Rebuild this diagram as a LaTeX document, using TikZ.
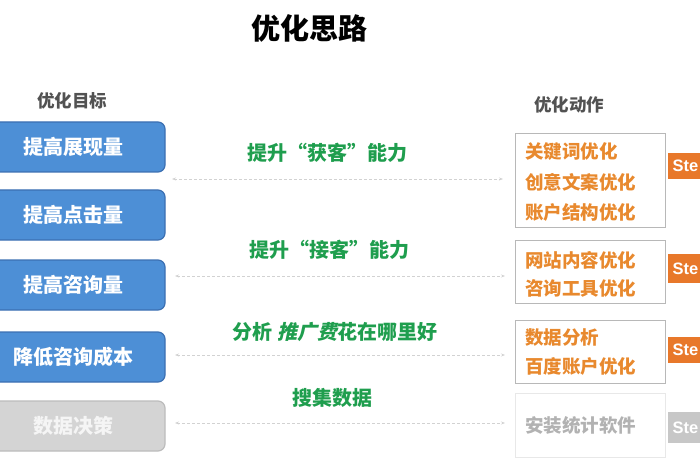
\documentclass[tikz,border=0pt]{standalone}
\usepackage{fontspec}
\setmainfont{Noto Sans CJK SC}
\newfontfamily\cjkslant{Noto Sans CJK SC}[FakeSlant=0.22]
\newfontfamily\latinsans{Liberation Sans}
\usetikzlibrary{arrows.meta}
\definecolor{goalblue}{HTML}{4D8FD6}
\definecolor{goalborder}{HTML}{3C70B2}
\definecolor{goalgrey}{HTML}{D4D4D4}
\definecolor{capgreen}{HTML}{1F9E4E}
\definecolor{actorange}{HTML}{E8892E}
\definecolor{taborange}{HTML}{E8782A}
\definecolor{linegrey}{HTML}{D2D2D2}
\begin{document}
\begin{tikzpicture}[x=1pt,y=-1pt,
  goal/.style={draw=goalborder,line width=1.2pt,fill=goalblue,rounded corners=7pt,minimum width=183pt,minimum height=50pt,text=white,font=\fontsize{20}{20}\selectfont\bfseries,anchor=center},
  goaloff/.style={goal,draw=goalgrey!85!black!90,fill=goalgrey,text=white!96!black},
  caption/.style={text=capgreen,font=\fontsize{20}{20}\selectfont\bfseries},
  actbox/.style={draw=black!28,line width=1pt,minimum width=150pt,anchor=north west,inner sep=0pt},
  acttext/.style={text=actorange,font=\fontsize{18.5}{18.5}\selectfont\bfseries,anchor=west,inner sep=0pt},
  tabbox/.style={fill=taborange,minimum width=32pt,anchor=north west,inner sep=0pt},
  tabtext/.style={text=white,font=\latinsans\fontsize{16.5}{16.5}\selectfont\bfseries,anchor=west,inner sep=0pt},
  link/.style={draw=linegrey,line width=0.9pt,densely dashed,{Stealth[length=4pt,width=3pt]}-{Stealth[length=4pt,width=3pt]}},
  header/.style={text=black!68,font=\fontsize{17.5}{17.5}\selectfont\bfseries}]
\useasboundingbox (0,0) rectangle (700,470);
\begin{scope}
\clip (0,0) rectangle (700,470);
% title and headers
\node[font=\fontsize{29}{29}\selectfont\bfseries] (title) at (309,28) {优化思路};
\node[header] (goalhead) at (72,101) {优化目标};
\node[header] (acthead) at (569,105) {优化动作};
% goals
\node[goal] (g1) at (73.5,147) {提高展现量};
\node[goal] (g2) at (73.5,215) {提高点击量};
\node[goal] (g3) at (73.5,285) {提高咨询量};
\node[goal] (g4) at (73.5,357) {降低咨询成本};
\node[goaloff] (g5) at (73.5,426) {数据决策};
% action boxes
\node[actbox,minimum height=94pt] (a1) at (515,133) {};
\node[actbox,minimum height=63pt] (a2) at (515,240) {};
\node[actbox,minimum height=63pt] (a3) at (515,320) {};
\node[actbox,draw=black!9,minimum height=64pt] (a4) at (515,393) {};
\node[acttext] (t11) at (525,152) {关键词优化};
\node[acttext] (t12) at (525,182) {创意文案优化};
\node[acttext] (t13) at (525,212) {账户结构优化};
\node[acttext] (t21) at (525,260) {网站内容优化};
\node[acttext] (t22) at (525,288) {咨询工具优化};
\node[acttext] (t31) at (525,338) {数据分析};
\node[acttext] (t32) at (525,366) {百度账户优化};
\node[acttext,text=black!30] (t41) at (525,425) {安装统计软件};
% step tabs
\node[tabbox,minimum height=26pt] (s1) at (668,153) {};
\node[tabbox,minimum height=29pt] (s2) at (668,254) {};
\node[tabbox,minimum height=26pt] (s3) at (668,337) {};
\node[tabbox,fill=black!22,minimum height=31pt] (s4) at (668,412) {};
\node[tabtext] (st1) at (672.5,166) {Ste};
\node[tabtext] (st2) at (672.5,268.5) {Ste};
\node[tabtext] (st3) at (672.5,350) {Ste};
\node[tabtext] (st4) at (672.5,427.5) {Ste};
% connectors
\coordinate (l1a) at (172,179); \coordinate (l1b) at (503,179);
\coordinate (l2a) at (175,276); \coordinate (l2b) at (505,276);
\coordinate (l3a) at (175,355); \coordinate (l3b) at (505,355);
\coordinate (l4a) at (175,423); \coordinate (l4b) at (505,423);
\draw[link] (l1a) -- (l1b);
\draw[link] (l2a) -- (l2b);
\draw[link] (l3a) -- (l3b);
\draw[link] (l4a) -- (l4b);
% captions
\node[caption] (c1) at (327,153) {提升“获客”能力};
\node[caption] (c2) at (329,250) {提升“接客”能力};
\node[caption] (c3) at (335,332) {分析 {\cjkslant\bfseries 推广费}花在哪里好};
\node[caption] (c4) at (332,398) {搜集数据};
\end{scope}
\end{tikzpicture}
\end{document}
